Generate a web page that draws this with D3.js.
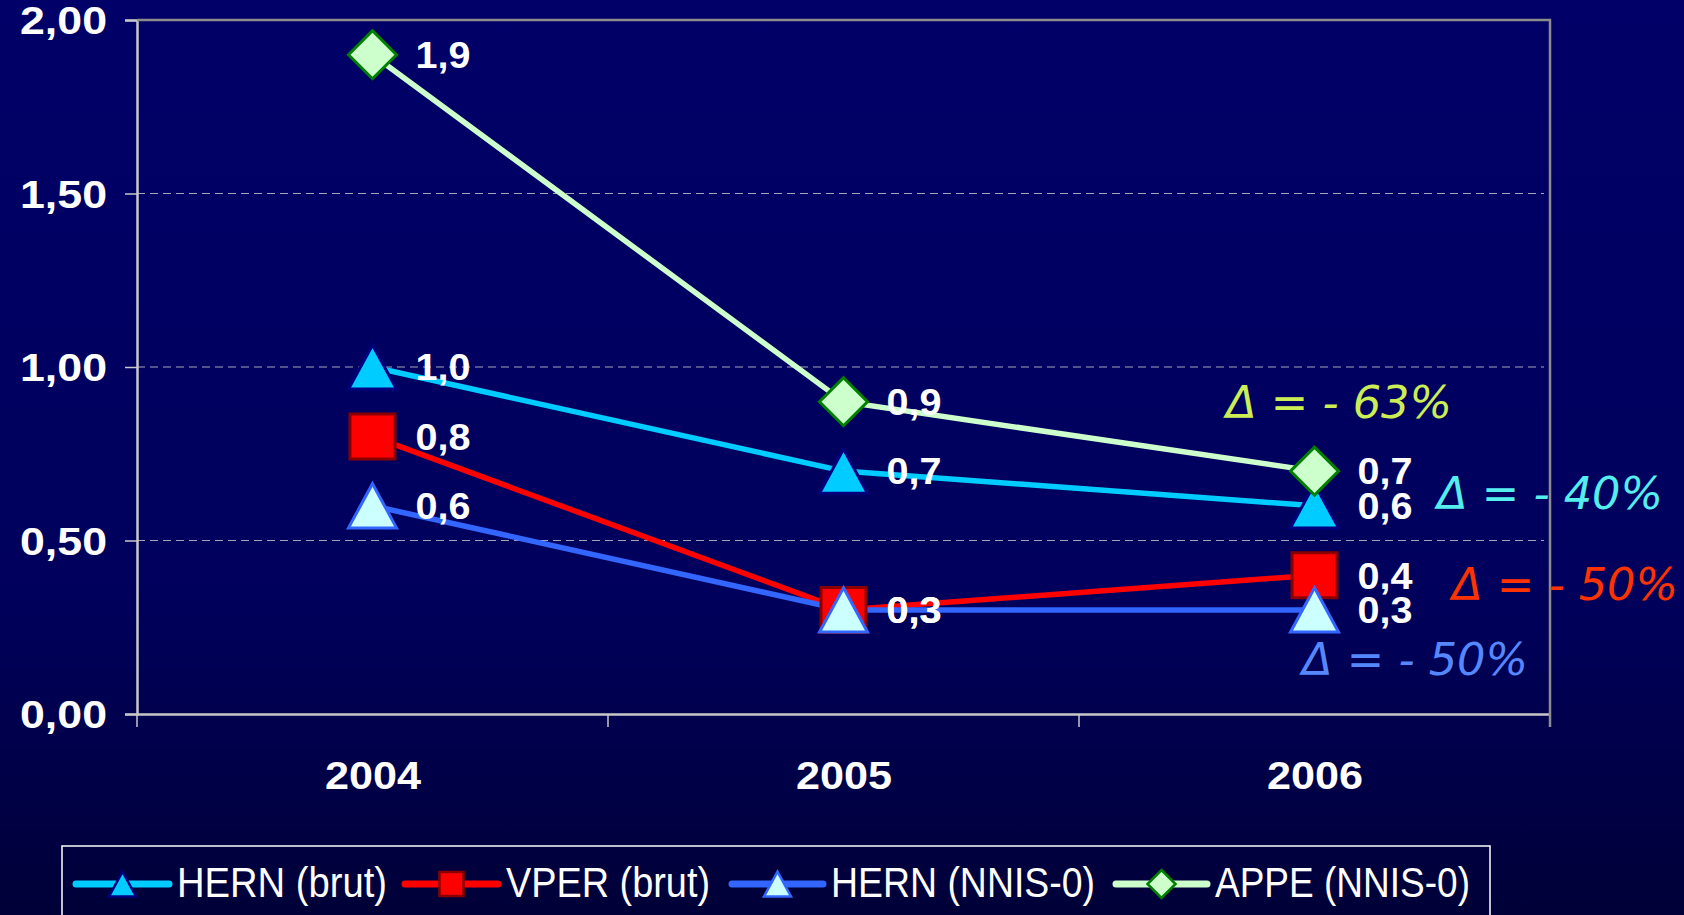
<!DOCTYPE html>
<html>
<head>
<meta charset="utf-8">
<script src="https://cdn.jsdelivr.net/npm/d3@7"></script>
<style>
  body { margin: 0; background: #00004a; overflow: hidden; }
  svg { display: block; }
</style>
</head>
<body>
<div class="chart"></div>
<script>
// data
var years = [2004, 2005, 2006];
var hernBrut = [1.0, 0.7, 0.6];
var vperBrut = [0.8, 0.3, 0.4];
var hernNnis = [0.6, 0.3, 0.3];
var appeNnis = [1.9, 0.9, 0.7];
var seriesNames = ["HERN (brut)", "VPER (brut)", "HERN (NNIS-0)", "APPE (NNIS-0)"];
var yTicks = [0, 0.5, 1, 1.5, 2];
var deltaLabels = ["\u0394 = - 63%", "\u0394 = - 40%", "\u0394 = - 50%", "\u0394 = - 50%"];

var svgWidth = 1684;
var svgHeight = 915;

var margin = { top: 20, right: 134, bottom: 201, left: 137 };
var width = svgWidth - margin.left - margin.right;
var height = svgHeight - margin.top - margin.bottom;

// styles per series (same order as seriesNames)
var styles = [
  { line: "#00ccff", fill: "#00ccff", stroke: "#000080", shape: "triangle" },
  { line: "#ff0000", fill: "#ff0000", stroke: "#8a0000", shape: "square" },
  { line: "#3366ff", fill: "#ccffff", stroke: "#3366ff", shape: "triangle" },
  { line: "#ccffcc", fill: "#ccffcc", stroke: "#008000", shape: "diamond" }
];
var allValues = [hernBrut, vperBrut, hernNnis, appeNnis];
var series = seriesNames.map(function(name, i) {
  return { name: name, values: allValues[i], style: styles[i] };
});

var svg = d3.select(".chart")
  .append("svg")
  .attr("width", svgWidth)
  .attr("height", svgHeight);

var defs = svg.append("defs");
var grad = defs.append("linearGradient")
  .attr("id", "bg")
  .attr("x1", 0).attr("y1", 0).attr("x2", 0).attr("y2", 1);
grad.append("stop").attr("offset", "0%").attr("stop-color", "#000068");
grad.append("stop").attr("offset", "65%").attr("stop-color", "#00005c");
grad.append("stop").attr("offset", "100%").attr("stop-color", "#000038");

svg.append("rect")
  .attr("width", svgWidth)
  .attr("height", svgHeight)
  .attr("fill", "url(#bg)");

var chartGroup = svg.append("g")
  .attr("transform", `translate(${margin.left}, ${margin.top})`);

var x = d3.scalePoint()
  .domain(years)
  .range([0, width])
  .padding(0.5);

var y = d3.scaleLinear()
  .domain([0, 2])
  .range([height, 0]);

function comma(v, digits) {
  return d3.format("." + digits + "f")(v).replace(".", ",");
}

// dashed gridlines
chartGroup.selectAll(".grid")
  .data(yTicks.filter(d => d > 0 && d < 2))
  .enter()
  .append("line")
  .attr("x1", 0)
  .attr("x2", width - 6)
  .attr("y1", d => y(d))
  .attr("y2", d => y(d))
  .attr("stroke", "#a4a4b8")
  .attr("stroke-width", 1.2)
  .attr("stroke-dasharray", "8,5");

// y axis
var leftAxis = d3.axisLeft(y)
  .tickValues(yTicks)
  .tickSize(12)
  .tickPadding(18)
  .tickFormat(d => comma(d, 2));

var yAxis = chartGroup.append("g").call(leftAxis);
yAxis.select(".domain").attr("stroke", "#c8c8c8").attr("stroke-width", 2.5);
yAxis.selectAll(".tick line").attr("stroke", "#c8c8c8").attr("stroke-width", 1.5);
yAxis.selectAll(".tick text")
  .attr("fill", "#ffffff")
  .attr("font-family", "Liberation Sans, Arial, sans-serif")
  .attr("font-weight", "bold")
  .attr("font-size", 38)
  .attr("textLength", 87)
  .attr("lengthAdjust", "spacingAndGlyphs")
  .attr("dy", "0.36em");

// x axis: ticks on category boundaries
var bottomAxis = d3.axisBottom(x).tickSize(0).tickPadding(48);
var xAxis = chartGroup.append("g")
  .attr("transform", `translate(0, ${height})`)
  .call(bottomAxis);
xAxis.select(".domain").attr("stroke", "#c8c8c8").attr("stroke-width", 2.5);
xAxis.selectAll(".tick text")
  .attr("fill", "#ffffff")
  .attr("font-family", "Liberation Sans, Arial, sans-serif")
  .attr("font-weight", "bold")
  .attr("font-size", 38)
  .attr("textLength", 96)
  .attr("lengthAdjust", "spacingAndGlyphs");

var step = x.step();
xAxis.selectAll(".boundary")
  .data(d3.range(years.length + 1))
  .enter()
  .append("line")
  .attr("x1", d => d * step)
  .attr("x2", d => d * step)
  .attr("y1", 0)
  .attr("y2", 13)
  .attr("stroke", "#c8c8c8")
  .attr("stroke-width", 1.5);

// marker shapes, centred on the point
function markerPath(shape, s) {
  if (shape === "triangle") {
    var h = s * 0.92;
    return `M0,${-h}L${s},${h}L${-s},${h}Z`;
  }
  if (shape === "square") {
    return `M${-s},${-s}L${s},${-s}L${s},${s}L${-s},${s}Z`;
  }
  return `M0,${-s}L${s},0L0,${s}L${-s},0Z`;
}
var markerSize = { triangle: 24, square: 22.5, diamond: 24 };

var line = d3.line()
  .x((d, i) => x(years[i]))
  .y(d => y(d));

// lines
chartGroup.selectAll(".series-line")
  .data(series)
  .enter()
  .append("path")
  .attr("class", "series-line")
  .attr("d", d => line(d.values))
  .attr("fill", "none")
  .attr("stroke", d => d.style.line)
  .attr("stroke-width", 5.5);

// markers
series.forEach(function(s) {
  chartGroup.selectAll(null)
    .data(s.values)
    .enter()
    .append("path")
    .attr("transform", (d, i) => `translate(${x(years[i])}, ${y(d)})`)
    .attr("d", markerPath(s.style.shape, markerSize[s.style.shape]))
    .attr("fill", s.style.fill)
    .attr("stroke", s.style.stroke)
    .attr("stroke-width", 3)
    .attr("stroke-linejoin", "miter");
});

// value labels
series.forEach(function(s) {
  chartGroup.selectAll(null)
    .data(s.values)
    .enter()
    .append("text")
    .attr("x", (d, i) => x(years[i]) + 43)
    .attr("y", d => y(d))
    .attr("dy", "0.37em")
    .attr("fill", "#ffffff")
    .attr("font-family", "Liberation Sans, Arial, sans-serif")
    .attr("font-weight", "bold")
    .attr("font-size", 36)
    .attr("textLength", 55)
    .attr("lengthAdjust", "spacingAndGlyphs")
    .text(d => comma(d, 1));
});

// delta annotations (appe, hern brut, vper, hern nnis)
var deltaColors = ["#ccee55", "#55eeee", "#ff3300", "#5588ff"];
var deltaPos = [
  { x: 1226, y: 418 },
  { x: 1437, y: 509 },
  { x: 1452, y: 600 },
  { x: 1302, y: 675 }
];
svg.selectAll(".delta")
  .data(deltaLabels)
  .enter()
  .append("text")
  .attr("x", (d, i) => deltaPos[i].x)
  .attr("y", (d, i) => deltaPos[i].y)
  .attr("fill", (d, i) => deltaColors[i])
  .attr("font-family", "DejaVu Sans, Verdana, sans-serif")
  .attr("font-style", "italic")
  .attr("font-size", 44)
  .attr("textLength", 226)
  .attr("lengthAdjust", "spacingAndGlyphs")
  .attr("xml:space", "preserve")
  .text(d => d);

// top and right frame
chartGroup.append("path")
  .attr("d", `M0,0H${width}V${height + 13}`)
  .attr("fill", "none")
  .attr("stroke", "#8c8c8c")
  .attr("stroke-width", 2.5);

// legend
var legend = svg.append("g");
legend.append("rect")
  .attr("x", 62)
  .attr("y", 846)
  .attr("width", 1428)
  .attr("height", 100)
  .attr("fill", "none")
  .attr("stroke", "#ffffff")
  .attr("stroke-width", 1.5);

var legendX = [76, 405, 732, 1116];
var legendLineLen = [93, 93, 91, 91];
var legendTextLen = [210, 204, 264, 255];
var legendMarker = { triangle: 13.5, square: 12, diamond: 14 };

var items = legend.selectAll(".item")
  .data(series)
  .enter()
  .append("g")
  .attr("transform", (d, i) => `translate(${legendX[i]}, 884)`);

items.append("line")
  .attr("x1", 0)
  .attr("x2", (d, i) => legendLineLen[i])
  .attr("stroke", d => d.style.line)
  .attr("stroke-width", 7)
  .attr("stroke-linecap", "round");

items.append("path")
  .attr("transform", (d, i) => `translate(${legendLineLen[i] / 2}, 0)`)
  .attr("d", d => markerPath(d.style.shape, legendMarker[d.style.shape]))
  .attr("fill", d => d.style.fill)
  .attr("stroke", d => d.style.stroke)
  .attr("stroke-width", 2.5);

items.append("text")
  .attr("x", (d, i) => legendLineLen[i] + 8)
  .attr("y", 13)
  .attr("fill", "#ffffff")
  .attr("font-family", "Liberation Sans, Arial, sans-serif")
  .attr("font-size", 42)
  .attr("textLength", (d, i) => legendTextLen[i])
  .attr("lengthAdjust", "spacingAndGlyphs")
  .text(d => d.name);
</script>
</body>
</html>
